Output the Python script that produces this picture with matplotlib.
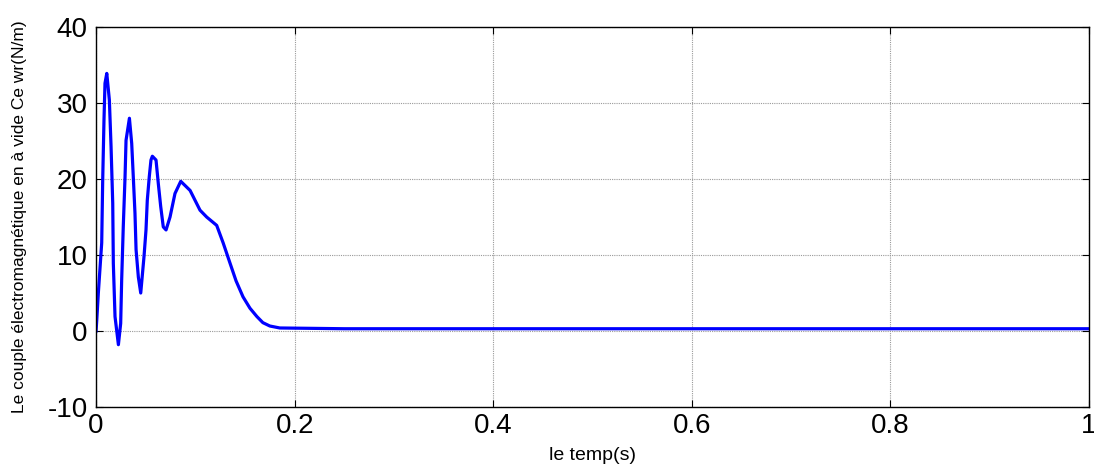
import matplotlib.pyplot as plt

# couple electromagnetique a vide
t = [0.0, 0.0007, 0.0023, 0.0057, 0.0067, 0.008, 0.009, 0.0108, 0.0134, 0.0151,
     0.0168, 0.0174, 0.0191, 0.0225, 0.0248, 0.0258, 0.0274, 0.0292, 0.0302, 0.0336,
     0.0359, 0.0375, 0.0392, 0.0403, 0.0426, 0.045, 0.0483, 0.0503, 0.0516, 0.0536,
     0.0553, 0.0567, 0.0604, 0.0627, 0.0651, 0.0677, 0.0705, 0.0745, 0.0795, 0.0853,
     0.0947, 0.1047, 0.1114, 0.1215, 0.128, 0.135, 0.141, 0.148, 0.155, 0.162,
     0.168, 0.175, 0.185, 0.25, 0.5, 0.75, 1.0]
ce = [0.0, 1.4, 5.0, 11.6, 19.9, 27.8, 32.6, 33.9, 30.4, 24.3,
      16.8, 8.9, 1.9, -1.8, 1.0, 6.7, 13.7, 20.3, 25.1, 28.0,
      24.7, 20.3, 15.5, 10.7, 7.1, 5.0, 9.8, 13.3, 17.2, 20.3,
      22.5, 23.0, 22.5, 19.4, 16.4, 13.7, 13.3, 15.0, 18.1, 19.7,
      18.5, 15.9, 15.0, 13.9, 11.6, 8.9, 6.6, 4.5, 3.0, 1.9,
      1.1, 0.66, 0.4, 0.3, 0.3, 0.3, 0.3]

xticks = [0, 0.2, 0.4, 0.6, 0.8, 1]
xtick_labels = ['0', '0.2', '0.4', '0.6', '0.8', '1']
yticks = [-10, 0, 10, 20, 30, 40]

plt.rcParams['font.family'] = ['Liberation Sans', 'DejaVu Sans']
plt.rcParams['axes.unicode_minus'] = False

fig = plt.figure(figsize=(10.94, 4.72), dpi=100)
ax = fig.add_axes([0.0878, 0.1377, 0.9076, 0.805])

ax.plot(t, ce, color='#0000ff', linewidth=2.3)

ax.set_xlim(0, 1)
ax.set_ylim(-10, 40)
ax.set_xticks(xticks)
ax.set_xticklabels(xtick_labels)
ax.set_yticks(yticks)
ax.tick_params(direction='in', top=True, right=True, labelsize=20,
               length=5, width=0.8)
ax.tick_params(axis='y', pad=6)
ax.tick_params(axis='x', pad=4)
ax.grid(True, color='#9a9a9a', linestyle=(0, (1, 1)), linewidth=0.8)

for s in ax.spines.values():
    s.set_linewidth(1.0)

ax.set_xlabel('le temp(s)', fontsize=14, labelpad=6)
ax.set_ylabel('Le couple électromagnétique en à vide Ce wr(N/m)', fontsize=12.5, labelpad=15)

fig.savefig('out.png', dpi=100)
